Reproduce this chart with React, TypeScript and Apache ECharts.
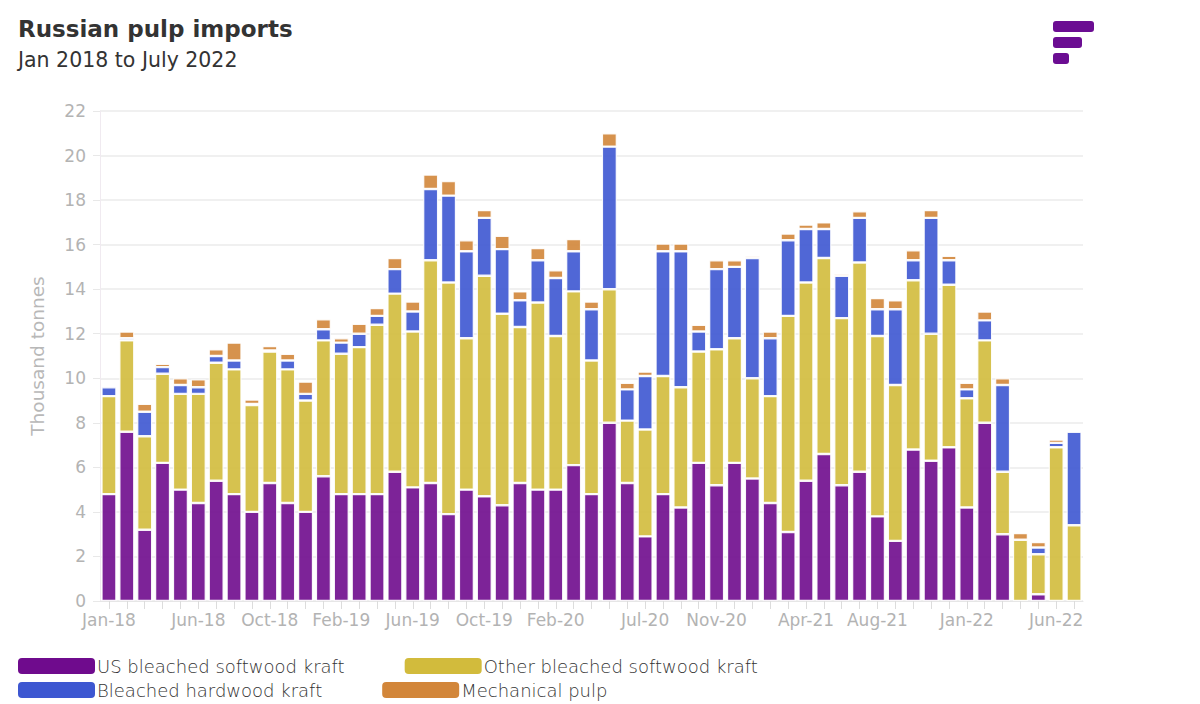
import React, { useEffect, useRef } from "react";
import * as echarts from "echarts";

const categories = [
  "Jan-18", "Feb-18", "Mar-18", "Apr-18", "May-18", "Jun-18", "Jul-18", "Aug-18", "Sep-18", "Oct-18", "Nov-18", "Dec-18",
  "Jan-19", "Feb-19", "Mar-19", "Apr-19", "May-19", "Jun-19", "Jul-19", "Aug-19", "Sep-19", "Oct-19", "Nov-19", "Dec-19",
  "Jan-20", "Feb-20", "Mar-20", "Apr-20", "May-20", "Jun-20", "Jul-20", "Aug-20", "Sep-20", "Oct-20", "Nov-20", "Dec-20",
  "Jan-21", "Feb-21", "Mar-21", "Apr-21", "May-21", "Jun-21", "Jul-21", "Aug-21", "Sep-21", "Oct-21", "Nov-21", "Dec-21",
  "Jan-22", "Feb-22", "Mar-22", "Apr-22", "May-22", "Jun-22", "Jul-22",
];

const tickLabels = [
  "Jan-18", "Jun-18", "Oct-18", "Feb-19", "Jun-19", "Oct-19", "Feb-20",
  "Jul-20", "Nov-20", "Apr-21", "Aug-21", "Jan-22", "Jun-22",
];

const yTicks = [0, 2, 4, 6, 8, 10, 12, 14, 16, 18, 20, 22];

const usKraft = [
  4.8, 7.6, 3.2, 6.2, 5.0, 4.4, 5.4, 4.8, 4.0, 5.3, 4.4, 4.0,
  5.6, 4.8, 4.8, 4.8, 5.8, 5.1, 5.3, 3.9, 5.0, 4.7, 4.3, 5.3,
  5.0, 5.0, 6.1, 4.8, 8.0, 5.3, 2.9, 4.8, 4.2, 6.2, 5.2, 6.2,
  5.5, 4.4, 3.1, 5.4, 6.6, 5.2, 5.8, 3.8, 2.7, 6.8, 6.3, 6.9,
  4.2, 8.0, 3.0, 0, 0.3, 0, 0,
];

const otherKraft = [
  4.4, 4.1, 4.2, 4.0, 4.3, 4.9, 5.3, 5.6, 4.8, 5.9, 6.0, 5.0,
  6.1, 6.3, 6.6, 7.6, 8.0, 7.0, 10.0, 10.4, 6.8, 9.9, 8.6, 7.0,
  8.4, 6.9, 7.8, 6.0, 6.0, 2.8, 4.8, 5.3, 5.4, 5.0, 6.1, 5.6,
  4.5, 4.8, 9.7, 8.9, 8.8, 7.5, 9.4, 8.1, 7.0, 7.6, 5.7, 7.3,
  4.9, 3.7, 2.8, 2.75, 1.8, 6.9, 3.4,
];

const hardwoodKraft = [
  0.4, 0.1, 1.1, 0.3, 0.4, 0.3, 0.3, 0.4, 0.05, 0.05, 0.4, 0.3,
  0.5, 0.5, 0.6, 0.4, 1.1, 0.9, 3.2, 3.9, 3.9, 2.6, 2.9, 1.2,
  1.9, 2.6, 1.8, 2.3, 6.4, 1.4, 2.4, 5.6, 6.1, 0.9, 3.6, 3.2,
  5.4, 2.6, 3.4, 2.4, 1.3, 1.9, 2.0, 1.2, 3.4, 0.9, 5.2, 1.1,
  0.4, 0.9, 3.9, 0, 0.3, 0.2, 4.2,
];

const mechanicalPulp = [
  0, 0.3, 0.35, 0.15, 0.3, 0.35, 0.3, 0.8, 0.2, 0.2, 0.3, 0.55,
  0.45, 0.2, 0.45, 0.35, 0.5, 0.45, 0.65, 0.65, 0.5, 0.35, 0.6, 0.4,
  0.55, 0.35, 0.55, 0.35, 0.6, 0.3, 0.2, 0.35, 0.35, 0.3, 0.4, 0.3,
  0.1, 0.3, 0.3, 0.2, 0.3, 0.1, 0.3, 0.5, 0.4, 0.45, 0.35, 0.2,
  0.3, 0.4, 0.3, 0.3, 0.25, 0.15, 0,
];

const seriesNames = [
  "US bleached softwood kraft",
  "Other bleached softwood kraft",
  "Bleached hardwood kraft",
  "Mechanical pulp",
];
const seriesColors = ["#6f0b8d", "#d2bb3c", "#3d57d1", "#d2863a"];
const seriesData = [usKraft, otherKraft, hardwoodKraft, mechanicalPulp];

const FONT = '"DejaVu Sans", "Open Sans", sans-serif';

export default function App() {
  const ref = useRef<HTMLDivElement>(null);

  useEffect(() => {
    document.body.style.margin = "0";
    const chart = echarts.init(ref.current!, null, { renderer: "svg" });

    const legendCommon = {
      left: 18,
      padding: 0,
      orient: "horizontal" as const,
      icon: "roundRect",
      itemWidth: 77,
      itemHeight: 16,
      itemGap: 60,
      textStyle: { fontFamily: FONT, fontSize: 18, fontWeight: 300, color: "#333", padding: [0, 0, 0, -3] },
      itemStyle: { borderWidth: 0, opacity: 1 },
      selectedMode: false,
    };

    chart.setOption({
      animation: false,
      backgroundColor: "#fff",
      textStyle: { fontFamily: FONT },
      title: {
        text: "Russian pulp imports",
        subtext: "Jan 2018 to July 2022",
        left: 18,
        top: 17,
        padding: 0,
        itemGap: 9,
        textStyle: { fontFamily: FONT, fontSize: 23, fontWeight: "bold", color: "#333" },
        subtextStyle: { fontFamily: FONT, fontSize: 20.5, color: "#333" },
      },
      graphic: [
        { type: "rect", shape: { x: 1053, y: 21, width: 41, height: 11, r: 3 }, style: { fill: "#6b0d92" } },
        { type: "rect", shape: { x: 1053, y: 37, width: 29, height: 11, r: 3 }, style: { fill: "#6b0d92" } },
        { type: "rect", shape: { x: 1053, y: 53, width: 16, height: 11, r: 3 }, style: { fill: "#6b0d92" } },
      ],
      legend: [
        { ...legendCommon, top: 657, data: [seriesNames[0], seriesNames[1]] },
        { ...legendCommon, top: 681, data: [seriesNames[2], seriesNames[3]] },
      ],
      grid: { left: 100, right: 117, top: 111, bottom: 103 },
      xAxis: {
        type: "category",
        data: categories,
        axisLine: { show: true, lineStyle: { color: "#e6e6e6", width: 1 } },
        axisTick: {
          show: true,
          alignWithLabel: true,
          interval: 0,
          length: 8,
          lineStyle: { color: "#dcdcdc" },
        },
        axisLabel: {
          interval: (_i: number, v: string) => tickLabels.includes(v),
          color: "#b3b3b3",
          fontSize: 17,
          fontFamily: FONT,
          margin: 10,
        },
      },
      yAxis: {
        type: "value",
        min: yTicks[0],
        max: yTicks[yTicks.length - 1],
        interval: 2,
        name: "Thousand tonnes",
        nameLocation: "middle",
        nameGap: 53,
        nameRotate: 90,
        nameTextStyle: { color: "#b8b8b8", fontSize: 18.5, fontFamily: FONT },
        axisLine: { show: true, lineStyle: { color: "#f0eaf0" } },
        axisTick: { show: true, length: 7, lineStyle: { color: "#e8e8e8" } },
        splitLine: { show: true, lineStyle: { color: "#ebebeb", width: 1.5 } },
        axisLabel: { color: "#b3b3b3", fontSize: 17, fontFamily: FONT, margin: 14 },
      },
      series: seriesNames.map((name, i) => ({
        name,
        type: "bar",
        stack: "total",
        barWidth: 15,
        data: seriesData[i].map((v) => (v === 0 ? null : v)),
        itemStyle: { color: seriesColors[i], opacity: 0.9, borderColor: "#fff", borderWidth: 1.2 },
        emphasis: { disabled: true },
      })),
    });

    return () => chart.dispose();
  }, []);

  return <div ref={ref} style={{ width: 1200, height: 704 }} />;
}
